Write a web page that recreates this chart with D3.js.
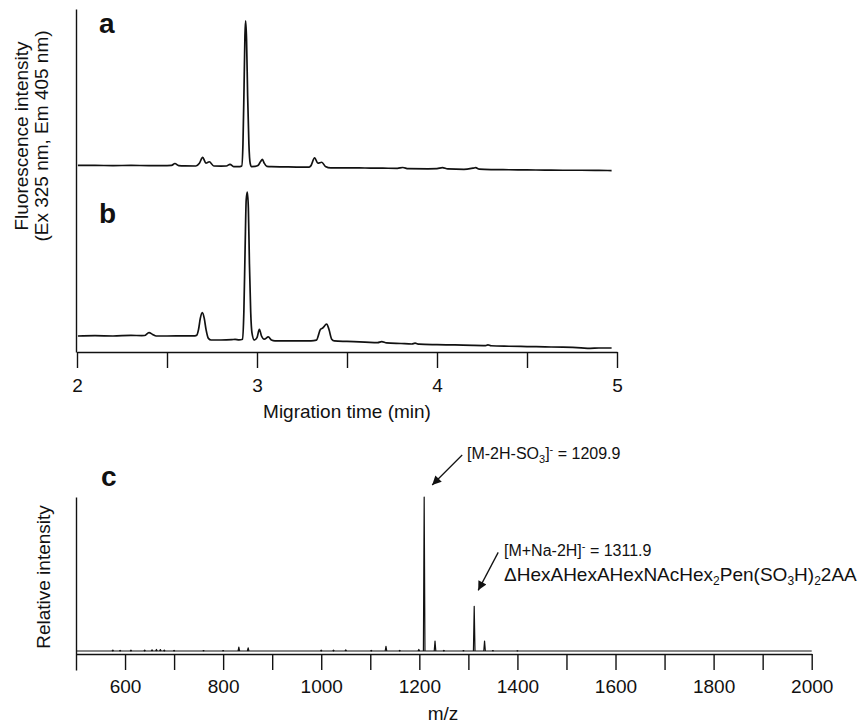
<!DOCTYPE html>
<html>
<head>
<meta charset="utf-8">
<script src="https://cdn.jsdelivr.net/npm/d3@7"></script>
<style>
  body { margin: 0; background: #fff; }
  svg { display: block; }
  text { font-family: "Liberation Sans", Arial, sans-serif; fill: #111; }
</style>
</head>
<body>
<svg id="fig" width="863" height="726"></svg>
<script>
// Electropherogram a: [migration time (min), fluorescence (a.u.)]
const traceA = [
  [2.005, 6.6], [2.1, 6.6], [2.2, 6.5], [2.3, 6.6], [2.4, 6.5], [2.5, 6.5], [2.525, 6.6],
  [2.544, 7.8], [2.565, 6.5], [2.6, 6.3], [2.66, 6.25], [2.68, 8.0], [2.698, 11.7],
  [2.716, 8.1], [2.735, 8.9], [2.76, 6.25], [2.8, 6.2], [2.83, 6.25], [2.85, 7.3],
  [2.87, 5.9], [2.905, 5.9], [2.915, 6.2], [2.922, 20], [2.928, 55], [2.933, 88],
  [2.937, 96.9], [2.942, 85], [2.948, 50], [2.955, 20], [2.962, 8], [2.97, 5.9],
  [2.99, 6.0], [3.005, 6.5], [3.02, 9.0], [3.03, 10.4], [3.04, 8.0], [3.055, 6.0],
  [3.08, 5.8], [3.15, 5.7], [3.22, 5.6], [3.29, 5.6], [3.3, 6.5], [3.32, 11.4],
  [3.338, 8.0], [3.36, 8.6], [3.38, 6.0], [3.41, 5.1], [3.5, 5.1], [3.6, 5.0],
  [3.7, 4.9], [3.78, 4.8], [3.81, 5.3], [3.84, 4.6], [3.95, 4.5], [4.0, 4.6],
  [4.03, 5.2], [4.06, 4.4], [4.15, 4.2], [4.2, 4.9], [4.215, 5.2], [4.235, 4.3],
  [4.3, 4.0], [4.4, 3.9], [4.5, 3.8], [4.6, 3.7], [4.7, 3.6], [4.8, 3.6], [4.9, 3.5],
  [4.97, 3.4]
];

// Electropherogram b
const traceB = [
  [2.005, 10.0], [2.1, 10.2], [2.2, 10.0], [2.3, 10.4], [2.36, 10.2], [2.375, 10.3],
  [2.40, 12.1], [2.42, 11.0], [2.44, 10.0], [2.5, 10.0], [2.6, 10.1], [2.655, 10.1],
  [2.665, 10.5], [2.675, 14], [2.685, 21], [2.696, 24.6], [2.707, 21], [2.717, 14],
  [2.73, 8.5], [2.745, 7.5], [2.8, 7.5], [2.86, 7.7], [2.878, 7.9], [2.9, 7.6],
  [2.92, 8.0], [2.927, 25], [2.934, 65], [2.94, 95], [2.946, 100], [2.952, 90],
  [2.958, 55], [2.965, 25], [2.972, 12], [2.985, 7.5], [3.0, 9.0], [3.013, 14.2],
  [3.025, 10.0], [3.04, 8.0], [3.063, 9.4], [3.08, 7.5], [3.1, 7.0], [3.2, 7.0],
  [3.3, 7.0], [3.33, 7.4], [3.353, 14.2], [3.365, 15.0], [3.387, 17.5], [3.4, 14],
  [3.415, 8.0], [3.43, 6.9], [3.5, 6.6], [3.6, 6.2], [3.67, 5.8], [3.693, 6.5],
  [3.72, 5.7], [3.8, 5.3], [3.86, 5.0], [3.878, 5.5], [3.9, 4.9], [4.0, 4.6],
  [4.1, 4.4], [4.2, 4.1], [4.27, 4.0], [4.283, 4.5], [4.3, 3.9], [4.4, 3.6],
  [4.5, 3.4], [4.6, 3.2], [4.7, 3.0], [4.8, 2.6], [4.85, 2.3], [4.9, 2.5], [4.97, 2.5]
];

// Mass spectrum c: peak m/z and relative intensity (%)
const msMz = [575, 590, 612, 640, 655, 664, 672, 680, 700, 760, 800, 832, 851, 1000,
              1025, 1050, 1102, 1132, 1160, 1199, 1209.9, 1232, 1250, 1290, 1311.9, 1333, 1350, 1400];
const msInt = [0.6, 0.4, 0.5, 0.6, 0.8, 1.0, 0.9, 0.6, 0.4, 0.3, 0.3, 2.5, 2.0, 0.5,
               0.5, 0.7, 0.4, 3.0, 0.4, 1.0, 100, 6.5, 0.4, 0.3, 29, 6.5, 0.3, 0.2];

// Axis ticks
const timeTicks = [2, 2.5, 3, 3.5, 4, 4.5, 5];
const timeTickLabels = [2, 3, 4, 5];
const mzTicks = [600, 700, 800, 900, 1000, 1100, 1200, 1300, 1400, 1500, 1600, 1700, 1800, 1900, 2000];
const mzTickLabels = [600, 800, 1000, 1200, 1400, 1600, 1800, 2000];

const svg = d3.select("#fig");
const ink = "#111";

// ---------- Electropherograms (a, b) ----------
const xT = d3.scaleLinear().domain([2, 5]).range([77, 617]);
const yA = d3.scaleLinear().domain([0, 100]).range([176, 16]);
const yB = d3.scaleLinear().domain([0, 100]).range([352, 192]);

const lineA = d3.line().x(d => xT(d[0])).y(d => yA(d[1])).curve(d3.curveMonotoneX);
const lineB = d3.line().x(d => xT(d[0])).y(d => yB(d[1])).curve(d3.curveMonotoneX);

svg.append("path").attr("d", lineA(traceA))
  .attr("fill", "none").attr("stroke", ink).attr("stroke-width", 1.7).attr("stroke-linejoin", "round");
svg.append("path").attr("d", lineB(traceB))
  .attr("fill", "none").attr("stroke", ink).attr("stroke-width", 1.7).attr("stroke-linejoin", "round");

// vertical intensity axis (no ticks)
const yTop = d3.scaleLinear().domain([0, 1]).range([352, 9]);
svg.append("g").attr("transform", "translate(76,0)")
  .call(d3.axisLeft(yTop).tickValues([]).tickSizeOuter(0))
  .call(g => g.select(".domain").attr("stroke", ink).attr("stroke-width", 1.4));

// time axis
svg.append("g").attr("transform", "translate(0,352)")
  .call(d3.axisBottom(xT).tickValues(timeTicks).tickSize(16).tickSizeOuter(0).tickPadding(11)
    .tickFormat(d => timeTickLabels.includes(d) ? d3.format("d")(d) : ""))
  .call(g => g.select(".domain").attr("stroke", ink).attr("stroke-width", 1.4))
  .call(g => g.selectAll(".tick line").attr("stroke", ink).attr("stroke-width", 1.4))
  .call(g => g.selectAll(".tick text").attr("font-size", 19).attr("fill", ink)
    .attr("font-family", "Liberation Sans, Arial, sans-serif"));

svg.append("text").attr("x", 347).attr("y", 418).attr("text-anchor", "middle")
  .attr("font-size", 19).text("Migration time (min)");

const yl = svg.append("g").attr("transform", "translate(0,136) rotate(-90)");
yl.append("text").attr("x", 0).attr("y", 28).attr("text-anchor", "middle")
  .attr("font-size", 19).text("Fluorescence intensity");
yl.append("text").attr("x", 0).attr("y", 48).attr("text-anchor", "middle")
  .attr("font-size", 19).text("(Ex 325 nm, Em 405 nm)");

svg.append("text").attr("x", 99).attr("y", 33).attr("font-size", 28).attr("font-weight", "bold").text("a");
svg.append("text").attr("x", 99).attr("y", 223).attr("font-size", 28).attr("font-weight", "bold").text("b");

// ---------- Mass spectrum (c) ----------
const xM = d3.scaleLinear().domain([500, 2000]).range([76, 811.7]);
const yM = d3.scaleLinear().domain([0, 100]).range([651, 497]);

// baseline of the spectrum
svg.append("path")
  .attr("d", d3.line()([[xM(500), yM(0)], [xM(2000), yM(0)]]))
  .attr("stroke", ink).attr("stroke-width", 1.1).attr("fill", "none");

const peaks = msMz.map((m, i) => ({ mz: m, v: msInt[i] }));
svg.append("g").selectAll("path").data(peaks).join("path")
  .attr("d", d => d3.line()([[xM(d.mz - 1.6), yM(0)], [xM(d.mz), yM(d.v)], [xM(d.mz + 1.6), yM(0)]]))
  .attr("fill", "none").attr("stroke", ink).attr("stroke-width", 1.2).attr("stroke-linejoin", "round");

// m/z axis
svg.append("g").attr("transform", "translate(0,654)")
  .call(d3.axisBottom(xM).tickValues(mzTicks).tickSize(16).tickSizeOuter(0).tickPadding(10)
    .tickFormat(d => mzTickLabels.includes(d) ? d3.format("d")(d) : ""))
  .call(g => g.select(".domain").attr("stroke", ink).attr("stroke-width", 1.4))
  .call(g => g.selectAll(".tick line").attr("stroke", ink).attr("stroke-width", 1.4))
  .call(g => g.selectAll(".tick text").attr("font-size", 19).attr("fill", ink)
    .attr("font-family", "Liberation Sans, Arial, sans-serif"));

// intensity axis of the spectrum
const yMaxis = d3.scaleLinear().domain([0, 1]).range([670, 497]);
svg.append("g").attr("transform", "translate(76,0)")
  .call(d3.axisLeft(yMaxis).tickValues([]).tickSizeOuter(0))
  .call(g => g.select(".domain").attr("stroke", ink).attr("stroke-width", 1.4));

svg.append("text").attr("x", 443).attr("y", 720).attr("text-anchor", "middle")
  .attr("font-size", 19).text("m/z");

svg.append("text").attr("transform", "translate(50,577) rotate(-90)").attr("text-anchor", "middle")
  .attr("font-size", 19).text("Relative intensity");

svg.append("text").attr("x", 101).attr("y", 486).attr("font-size", 28).attr("font-weight", "bold").text("c");

// arrow marker
svg.append("defs").append("marker")
  .attr("id", "head").attr("viewBox", "0 0 10 10").attr("refX", 10).attr("refY", 5)
  .attr("markerWidth", 11).attr("markerHeight", 9).attr("markerUnits", "userSpaceOnUse")
  .attr("orient", "auto")
  .append("path").attr("d", "M0,0 L10,5 L0,10 Z").attr("fill", ink);

function arrow(x1, y1, x2, y2) {
  svg.append("line").attr("x1", x1).attr("y1", y1).attr("x2", x2).attr("y2", y2)
    .attr("stroke", ink).attr("stroke-width", 1.3).attr("marker-end", "url(#head)");
}

// ion labels
const p1 = { x: xM(1209.9), y: yM(100) };
arrow(p1.x + 38, p1.y - 42, p1.x + 8, p1.y - 12);
const t1 = svg.append("text").attr("x", 467).attr("y", 459).attr("font-size", 16);
t1.append("tspan").text("[M-2H-SO");
t1.append("tspan").attr("font-size", 11).attr("dy", 4).text("3");
t1.append("tspan").attr("dy", -4).text("]");
t1.append("tspan").attr("font-size", 11).attr("dy", -6).text("-");
t1.append("tspan").attr("dy", 6).text(" = 1209.9");

const p2 = { x: xM(1311.9), y: yM(29) };
arrow(p2.x + 24, p2.y - 54, p2.x + 4, p2.y - 16);
const t2 = svg.append("text").attr("x", 504).attr("y", 556).attr("font-size", 16);
t2.append("tspan").text("[M+Na-2H]");
t2.append("tspan").attr("font-size", 11).attr("dy", -6).text("-");
t2.append("tspan").attr("dy", 6).text(" = 1311.9");

const t3 = svg.append("text").attr("x", 504).attr("y", 581).attr("font-size", 19);
t3.append("tspan").text("\u0394HexAHexAHexNAcHex");
t3.append("tspan").attr("font-size", 12).attr("dy", 4).text("2");
t3.append("tspan").attr("dy", -4).text("Pen(SO");
t3.append("tspan").attr("font-size", 12).attr("dy", 4).text("3");
t3.append("tspan").attr("dy", -4).text("H)");
t3.append("tspan").attr("font-size", 12).attr("dy", 4).text("2");
t3.append("tspan").attr("dy", -4).text("2AA");
</script>
</body>
</html>
